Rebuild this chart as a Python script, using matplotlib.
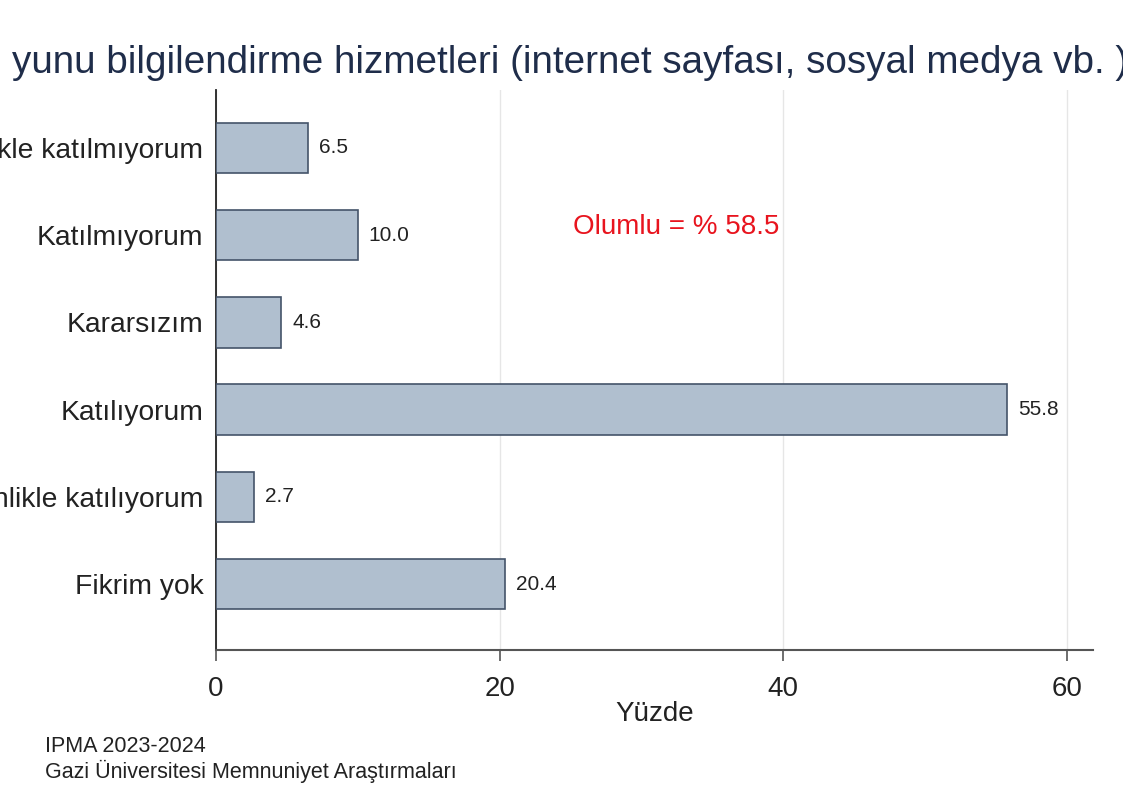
import matplotlib.pyplot as plt
import numpy as np

plt.rcParams['font.family'] = ['Liberation Sans', 'DejaVu Sans']

# data, top to bottom as shown
labels = ['Kesinlikle katılmıyorum', 'Katılmıyorum', 'Kararsızım',
          'Katılıyorum', 'Kesinlikle katılıyorum', 'Fikrim yok']
values = [6.5, 10.0, 4.6, 55.8, 2.7, 20.4]
xticks = [0, 20, 40, 60]

title = 'yunu bilgilendirme hizmetleri (internet sayfası, sosyal medya vb. )'
note = 'Olumlu = % 58.5'
source = ['IPMA 2023-2024', 'Gazi Üniversitesi Memnuniyet Araştırmaları']

fig = plt.figure(figsize=(11.23, 8.11), dpi=100)
ax = fig.add_axes([0.1923, 0.1985, 0.781, 0.6905])

pos = np.arange(len(labels))[::-1]
ax.barh(pos, values, height=0.58, color='#b0bfcf', edgecolor='#44546a', linewidth=1.2, zorder=3)
for p, v in zip(pos, values):
    ax.annotate(f'{v:.1f}', (v, p), xytext=(8, 0), textcoords='offset points',
                va='center', ha='left', fontsize=15, color='#222222')

ax.set_xlim(0, 61.85)
ax.set_ylim(-0.756, 5.664)
ax.set_yticks(pos)
ax.set_yticklabels(labels, fontsize=20.3, color='#222222')
ax.tick_params(axis='y', length=0, pad=9)
ax.set_xticks(xticks)
ax.set_xticklabels([str(t) for t in xticks], fontsize=20, color='#222222')
ax.tick_params(axis='x', length=8, width=1.2, color='#555555', pad=11)
ax.set_xlabel('Yüzde', fontsize=20, color='#222222', labelpad=-1)

ax.grid(axis='x', color='#e6e6e6', linewidth=1, zorder=0)
ax.set_axisbelow(True)
for s in ['top', 'right']:
    ax.spines[s].set_visible(False)
ax.spines['left'].set_color('#222222')
ax.spines['left'].set_linewidth(1.3)
ax.spines['bottom'].set_color('#555555')
ax.spines['bottom'].set_linewidth(1.5)

ax.text(25.2, 4.09, note, color='#e8141e', fontsize=20, va='center', ha='left')

fig.text(12 / 1123, 1 - 63 / 811, title, fontsize=27.8, color='#1f2d4a', va='center', ha='left')
fig.text(45 / 1123, 1 - 746 / 811, source[0], fontsize=15.5, color='#222222', va='center', ha='left')
fig.text(45 / 1123, 1 - 771 / 811, source[1], fontsize=15.5, color='#222222', va='center', ha='left')

fig.savefig('out.png', dpi=100, facecolor='white')
